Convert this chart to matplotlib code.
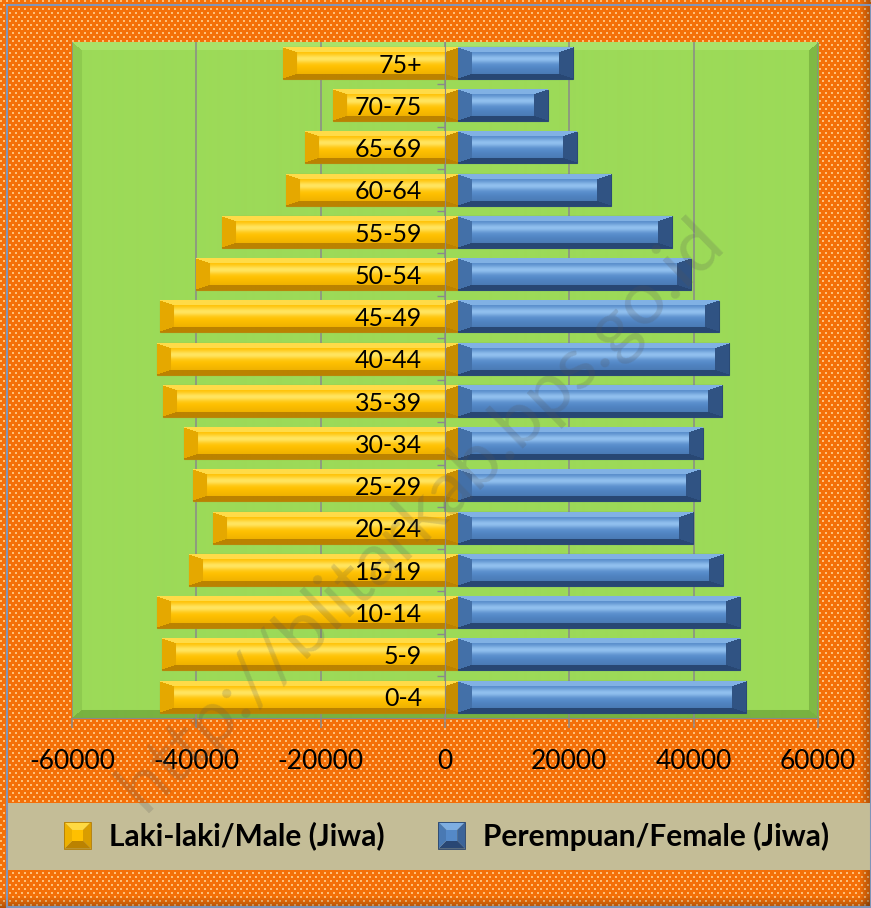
import numpy as np
import matplotlib
matplotlib.use("Agg")
import matplotlib.pyplot as plt
from matplotlib.patches import Rectangle, Polygon
from matplotlib.legend_handler import HandlerBase
from matplotlib.ticker import FixedLocator
from matplotlib.font_manager import FontProperties

# ---------------- data ----------------
categories = ['0-4', '5-9', '10-14', '15-19', '20-24', '25-29', '30-34', '35-39',
              '40-44', '45-49', '50-54', '55-59', '60-64', '65-69', '70-75', '75+']
male = [45840, 45520, 46320, 41180, 37320, 40530, 41980, 45360,
        46320, 45840, 40050, 35870, 25580, 22520, 18020, 26060]
female = [48420, 47450, 47450, 44720, 39890, 41020, 41500, 44560,
          45680, 44070, 39570, 36510, 26700, 21230, 16570, 20590]
xticks = [-60000, -40000, -20000, 0, 20000, 40000, 60000]
series_labels = ['Laki-laki/Male (Jiwa)', 'Perempuan/Female (Jiwa)']
watermark = 'http://blitarkab.bps.go.id'

# ---------------- style ----------------
W, H = 871, 908
CENTER = 2100          # where the two bar series meet
AX_L, AX_R, AX_T, AX_B = 72, 818, 42, 718
FONT = 'Lato'
MALE_C = dict(base=(255, 192, 0), light=(255, 238, 120), dark=(170, 115, 0))
FEM_C = dict(base=(84, 137, 200), light=(160, 205, 248), dark=(30, 55, 95))


def mix(a, b, t):
    return a * (1 - t) + b * t


def bevel_img(hp, wp, cols, bx=6, by=6, face_grad=True):
    hp = max(int(round(hp)), 2 * by + 2)
    wp = max(int(round(wp)), 2 * bx + 2)
    base = np.array(cols['base']) / 255.0
    light = np.array(cols['light']) / 255.0
    dark = np.array(cols['dark']) / 255.0
    i = np.arange(hp)[:, None] * np.ones((1, wp))
    j = np.ones((hp, 1)) * np.arange(wp)[None, :]
    st = np.stack([i / by, (hp - 1 - i) / by, j / bx, (wp - 1 - j) / bx])
    m = st.min(0)
    side = st.argmin(0)
    t = (i / (hp - 1))[..., None]
    if face_grad:
        hl = 0.8 * np.exp(-((t - 0.36) / 0.14) ** 2)
        face = mix(base, light, hl)
        face = mix(face, dark, np.clip((t - 0.6) * 0.7, 0, 1))
    else:
        face = np.broadcast_to(base, (hp, wp, 3)).copy()
    bev = [mix(base, light, 0.6), mix(base, dark, 0.8),
           mix(base, dark, 0.3), mix(base, dark, 0.65)]
    img = face.copy()
    for k in range(4):
        sel = (m < 1) & (side == k)
        img[sel] = bev[k]
    return img


fig = plt.figure(figsize=(W / 100, H / 100), dpi=100)

# ---------------- background (pixel exact) ----------------
yy, xx = np.mgrid[0:H, 0:W]
ob = np.array([244, 112, 8]) / 255.0
od = np.array([255, 205, 140]) / 255.0
row = (yy // 4) % 2
pat = (((xx + 3 * row) % 6) < 2) & ((yy % 4) < 2)
bgimg = np.broadcast_to(ob, (H, W, 3)).copy()
bgimg[pat] = mix(ob, od, 0.85)
shade = np.clip((xx - (W - 12)) / 12, 0, 1) * 0.3 + np.clip((yy - (H - 12)) / 12, 0, 1) * 0.3
bgimg = bgimg * (1 - shade[..., None])
fig.figimage(bgimg, xo=0, yo=0, origin='upper', zorder=-20)

bg = fig.add_axes([0, 0, 1, 1], zorder=-10)
bg.axis('off')
bg.patch.set_visible(False)
bg.set_xlim(0, W)
bg.set_ylim(H, 0)
bg.add_patch(Rectangle((8, 803), W - 8, 67, facecolor='#c4bd97', edgecolor='none'))
bg.add_patch(Rectangle((7, 5), W - 7.5, H - 6, facecolor='none', edgecolor='#7f94b8', lw=1.5))

# ---------------- main axes ----------------
ax = fig.add_axes([AX_L / W, 1 - AX_B / H, (AX_R - AX_L) / W, (AX_B - AX_T) / H])
xmin, xmax = xticks[0], xticks[-1]
n = len(categories)
ymin, ymax = -0.5, n - 0.5
pxx = (AX_R - AX_L) / (xmax - xmin)
pxy = (AX_B - AX_T) / (ymax - ymin)

green = dict(base=(156, 218, 88), light=(178, 232, 118), dark=(112, 168, 58))
ax.imshow(bevel_img(AX_B - AX_T, AX_R - AX_L, green, bx=10, by=8, face_grad=False),
          extent=[xmin, xmax, ymin, ymax], aspect='auto', zorder=0, interpolation='bilinear')

y = np.arange(n)
bh = 0.75
male_a = np.array(male, dtype=float)
fem_a = np.array(female, dtype=float)
bm = ax.barh(y, male_a + CENTER, left=-male_a, height=bh, color='#ffc000',
             edgecolor='#b8860b', lw=0.8, zorder=3)
bf = ax.barh(y, fem_a - CENTER, left=CENTER, height=bh, color='#4f81bd',
             edgecolor='#2a4a75', lw=0.8, zorder=3)
for bars, cols in ((bm, MALE_C), (bf, FEM_C)):
    for p in bars:
        x0, y0, w, h = p.get_x(), p.get_y(), p.get_width(), p.get_height()
        img = bevel_img(h * pxy, w * pxx, cols, bx=14, by=5)
        ax.imshow(img, extent=[x0, x0 + w, y0, y0 + h], aspect='auto',
                  zorder=3.1, interpolation='bilinear')

ax.set_xlim(xmin, xmax)
ax.set_ylim(ymin, ymax)
ax.set_axisbelow(True)
ax.grid(axis='x', color='#8a8a8a', lw=1.1)
ax.grid(axis='y', visible=False)

for s in ('top', 'right'):
    ax.spines[s].set_visible(False)
ax.spines['left'].set_position(('data', 0))
ax.spines['left'].set_color('#8a8a8a')
ax.spines['left'].set_zorder(5)
ax.spines['bottom'].set_color('#8a8a8a')

ax.set_xticks(xticks)
ax.set_xticklabels([str(v) for v in xticks], fontsize=19, family=FONT)
ax.tick_params(axis='x', length=7, color='#8a8a8a', width=1.1, pad=15)

ax.set_yticks(y)
ax.set_yticklabels(categories, fontsize=18, family=FONT)
ax.tick_params(axis='y', which='major', length=0, pad=16.5)
ax.yaxis.set_minor_locator(FixedLocator(np.arange(0.5, n - 1, 1)))
ax.tick_params(axis='y', which='minor', length=5.5, color='#8a8a8a', width=1)
ax.yaxis.set_zorder(6)


# ---------------- legend ----------------
class BevelHandler(HandlerBase):
    def __init__(self, cols):
        super().__init__()
        self.cols = cols

    def create_artists(self, legend, orig_handle, xdescent, ydescent, width, height, fontsize, trans):
        s = height
        x0, y0 = -xdescent + (width - s) / 2, -ydescent
        d = s * 0.3
        base = np.array(self.cols['base']) / 255.0
        light = np.array(self.cols['light']) / 255.0
        dark = np.array(self.cols['dark']) / 255.0
        bl, br, tr, tl = (x0, y0), (x0 + s, y0), (x0 + s, y0 + s), (x0, y0 + s)
        ibl, ibr, itr, itl = (x0 + d, y0 + d), (x0 + s - d, y0 + d), (x0 + s - d, y0 + s - d), (x0 + d, y0 + s - d)
        polys = [([tl, tr, itr, itl], mix(base, light, 0.55)),
                 ([tr, br, ibr, itr], mix(base, dark, 0.45)),
                 ([br, bl, ibl, ibr], mix(base, dark, 0.8)),
                 ([bl, tl, itl, ibl], mix(base, dark, 0.2)),
                 ([ibl, ibr, itr, itl], base)]
        arts = []
        for pts, c in polys:
            pg = Polygon(pts, closed=True, facecolor=c, edgecolor='none', transform=trans)
            arts.append(pg)
        arts.append(Rectangle((x0, y0), s, s, facecolor='none', edgecolor=mix(base, dark, 0.9),
                              lw=0.6, transform=trans))
        return arts


hm = Rectangle((0, 0), 1, 1)
hf = Rectangle((0, 0), 1, 1)
fig.legend([hm, hf], series_labels, loc='center', bbox_to_anchor=(446 / W, 1 - 836 / H),
           ncol=2, frameon=False, prop=FontProperties(family=FONT, weight='bold', size=21.5),
           handlelength=1.0, handleheight=1.0, handletextpad=0.55, columnspacing=1.75,
           handler_map={hm: BevelHandler(MALE_C), hf: BevelHandler(FEM_C)})

# ---------------- watermark ----------------
wm = fig.text(422 / W, 1 - 515 / H, watermark, ha='center', va='center', rotation=0,
              fontsize=40, family=FONT, color='#555555', alpha=0.2, zorder=30)
fig.canvas.draw()
wpx = wm.get_window_extent().width
wm.set_fontsize(40 * 815 / wpx)
wm.set_rotation(44.3)
wm.set_rotation_mode('anchor')

fig.savefig('out.png', dpi=100)
